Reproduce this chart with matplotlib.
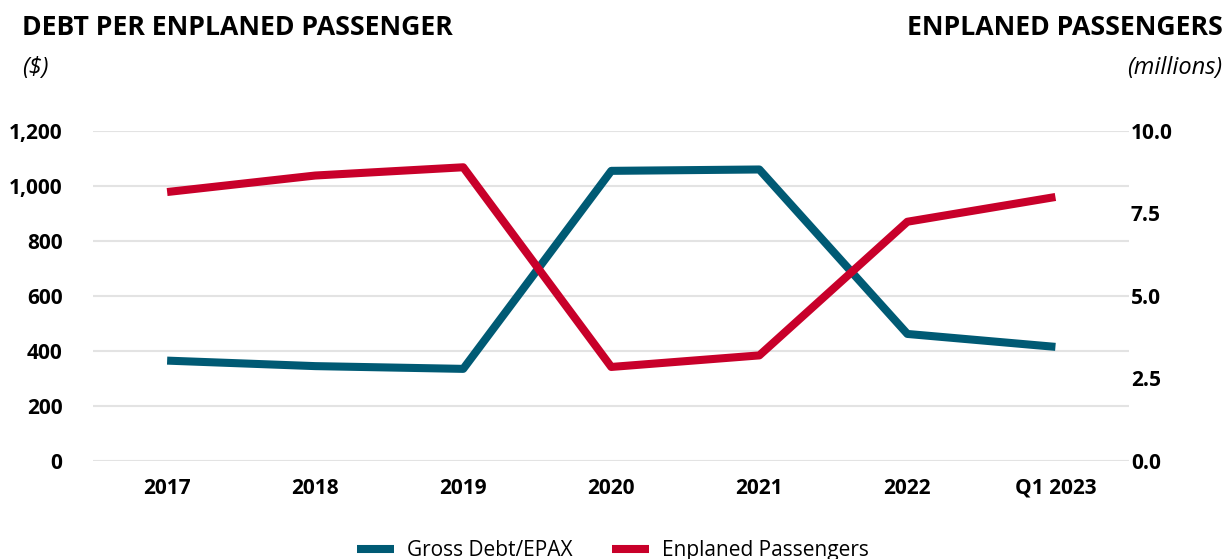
import matplotlib.pyplot as plt

plt.rcParams['font.family'] = ['Open Sans', 'DejaVu Sans']

years = ['2017', '2018', '2019', '2020', '2021', '2022', 'Q1 2023']
debt_per_epax = [365, 345, 335, 1055, 1060, 462, 415]
enplaned = [8.15, 8.65, 8.9, 2.85, 3.2, 7.25, 8.0]

blue = '#005a74'
red = '#c8002a'

fig = plt.figure(figsize=(12.25, 5.59), dpi=100)
ax = fig.add_axes([0.076, 0.1753, 0.846, 0.5904])
ax2 = ax.twinx()

x = range(len(years))
l1, = ax.plot(x, debt_per_epax, color=blue, lw=5.8, solid_capstyle='butt', clip_on=False, zorder=3)
l2, = ax2.plot(x, enplaned, color=red, lw=5.8, solid_capstyle='butt', clip_on=False, zorder=3)

ax.set_xlim(-0.5, len(years) - 0.5)
ax.set_ylim(0, 1200)
ax2.set_ylim(0, 10)
ax.set_yticks(range(0, 1201, 200))
ax.set_yticklabels([f'{v:,}' for v in range(0, 1201, 200)])
ax2.set_yticks([0, 2.5, 5, 7.5, 10])
ax2.set_yticklabels(['0.0', '2.5', '5.0', '7.5', '10.0'])
ax.set_xticks(list(x))
ax.set_xticklabels(years)

ax.grid(axis='y', color='#e3e3e3', lw=1.5)
ax.set_axisbelow(True)
for a in (ax, ax2):
    for s in a.spines.values():
        s.set_visible(False)
    a.tick_params(length=0)
ax.tick_params(axis='y', pad=22, labelsize=15)
ax.tick_params(axis='x', pad=12, labelsize=15)
ax2.tick_params(axis='y', pad=1, labelsize=15)
for t in ax.get_yticklabels() + ax.get_xticklabels() + ax2.get_yticklabels():
    t.set_fontweight('bold')

fig.text(0.018, 0.95, 'DEBT PER ENPLANED PASSENGER', fontsize=19.2, fontweight='bold', va='center')
fig.text(0.018, 0.878, '($)', fontsize=17, style='italic', va='center')
fig.text(0.998, 0.95, 'ENPLANED PASSENGERS', fontsize=19.2, fontweight='bold', va='center', ha='right')
fig.text(0.998, 0.878, '(millions)', fontsize=17, style='italic', va='center', ha='right')

fig.legend([l1, l2], ['Gross Debt/EPAX', 'Enplaned Passengers'], loc='center',
           bbox_to_anchor=(0.5, 0.015), ncol=2, frameon=False, fontsize=15,
           handlelength=1.8, handletextpad=0.6, columnspacing=1.9)

fig.savefig('out.png', dpi=100)
